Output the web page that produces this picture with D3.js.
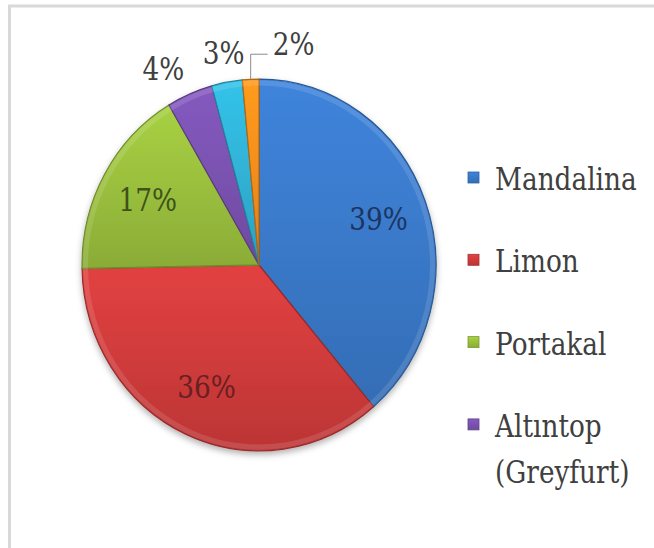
<!DOCTYPE html>
<html>
<head>
<meta charset="utf-8">
<script src="https://cdn.jsdelivr.net/npm/d3@7/dist/d3.min.js"></script>
<style>
  html, body { margin: 0; padding: 0; background: #ffffff; }
  svg { display: block; }
</style>
</head>
<body>
<svg id="chart" width="654" height="548"></svg>
<script>
// ---- data ----
const categories = ["Mandalina", "Limon", "Portakal", "Altıntop", "Turunç", "Diğer"];
const legendLines = [["Mandalina"], ["Limon"], ["Portakal"], ["Altıntop", "(Greyfurt)"]];
const values = [38.8, 35.9, 16.8, 4.2, 2.8, 1.5];
const baseColors = ["#3A79C9", "#D03B3B", "#9ABF3D", "#7A52B0", "#30B2D6", "#F38E1C"];
const labelColors = ["#1B3561", "#6A2020", "#3E5219", "#404040", "#404040", "#404040"];

// ---- layout ----
const W = 654, H = 548;
const cx = 259, cy = 265, R = 177, yStretch = 1.05;
const FONT = "DejaVu Serif", XS = 0.85;
const svg = d3.select("#chart");
const defs = svg.append("defs");

// text helper: serif text, horizontally condensed
function addText(parent, x, y, str, size, color, anchor) {
  const g = parent.append("g").attr("transform", `translate(${x},${y}) scale(${XS},1)`);
  g.append("text")
    .attr("x", 0).attr("y", 0)
    .attr("text-anchor", anchor)
    .attr("font-family", FONT)
    .attr("font-size", size)
    .attr("fill", color)
    .text(str);
  return g;
}
function box(g) {
  const bb = g.select("text").node().getBBox();
  const t = g.attr("transform").match(/translate\(([-\d.]+),([-\d.]+)\)/);
  const tx = +t[1];
  return { left: tx + bb.x * XS, right: tx + (bb.x + bb.width) * XS };
}

// outer chart frame
svg.append("rect").attr("x", 9.5).attr("y", 6).attr("width", W + 20).attr("height", H + 20)
  .attr("fill", "#ffffff").attr("stroke", "#d9d9d9").attr("stroke-width", 3);

// gradients
baseColors.forEach((c, i) => {
  const g = defs.append("linearGradient").attr("id", "grad" + i)
    .attr("x1", 0).attr("y1", 0).attr("x2", 0).attr("y2", 1);
  g.append("stop").attr("offset", "0%").attr("stop-color", d3.color(c).brighter(0.25));
  g.append("stop").attr("offset", "50%").attr("stop-color", c);
  g.append("stop").attr("offset", "100%").attr("stop-color", d3.color(c).darker(0.3));
});
const shadow = defs.append("filter").attr("id", "shadow")
  .attr("x", "-20%").attr("y", "-20%").attr("width", "140%").attr("height", "140%");
shadow.append("feDropShadow").attr("dx", 0).attr("dy", 3).attr("stdDeviation", 3)
  .attr("flood-color", "#000").attr("flood-opacity", 0.3);

const pie = d3.pie().sort(null).value(d => d)(values);
const arc = d3.arc().innerRadius(0).outerRadius(R);

const pieG = svg.append("g")
  .attr("transform", `translate(${cx},${cy}) scale(1,${yStretch})`)
  .attr("filter", "url(#shadow)");

pieG.selectAll("path.slice").data(pie).join("path")
  .attr("class", "slice")
  .attr("d", arc)
  .attr("fill", (d, i) => `url(#grad${i})`)
  .attr("stroke", (d, i) => d3.color(baseColors[i]).darker(0.9))
  .attr("stroke-width", 1.2)
  .attr("stroke-linejoin", "round");

// inner bevel highlight
const bevelArc = d3.arc().innerRadius(R - 6).outerRadius(R - 1);
pieG.selectAll("path.bevel").data(pie).join("path")
  .attr("class", "bevel")
  .attr("d", bevelArc)
  .attr("fill", "#ffffff")
  .attr("opacity", 0.12);

// ---- labels ----
const fmt = v => Math.round(v) + "%";
const labSize = 31;
const labelsG = svg.append("g");
const inArc = d3.arc().innerRadius(R * 0.72).outerRadius(R * 0.72);
let prevRight = -Infinity;
pie.forEach((d, i) => {
  const mid = (d.startAngle + d.endAngle) / 2;
  const share = d.value / d3.sum(values);
  if (share > 0.1) {
    const [x, y] = inArc.centroid(d);
    addText(labelsG, cx + x, cy + y * yStretch + labSize * 0.36, fmt(d.value), labSize, labelColors[i], "middle");
  } else {
    const s = Math.sin(mid), c = Math.cos(mid);
    const r0 = R * (Math.abs(s) > 0.3 ? 1.08 : 1.1);
    const x = cx + r0 * s;
    const y = cy - r0 * c * yStretch;
    const anchor = s < -0.3 ? "end" : (s > 0.3 ? "start" : "middle");
    let t = addText(labelsG, x, y, fmt(d.value), labSize, labelColors[i], anchor);
    let bb = box(t);
    if (bb.left < prevRight + 4) {
      // move the label to the right of its slice and draw a leader line
      t.remove();
      const px = cx + R * s;
      const py = cy - R * c * yStretch;
      const ly = cy - R * 1.13 * c * yStretch;
      t = addText(labelsG, px + 22, ly, fmt(d.value), labSize, labelColors[i], "start");
      bb = box(t);
      labelsG.append("polyline")
        .attr("points", `${px},${py} ${px},${ly - 1} ${bb.left - 5},${ly - 1}`)
        .attr("fill", "none").attr("stroke", "#8c8c8c").attr("stroke-width", 1);
    }
    prevRight = bb.right;
  }
});

// ---- legend ----
const legG = svg.append("g");
const legX = 468, legTextX = 495, legY0 = 190, legStep = 82.3, lineH = 46, legSize = 31;
legendLines.forEach((lines, i) => {
  const by = legY0 + i * legStep;
  legG.append("rect")
    .attr("x", legX).attr("y", by - 18).attr("width", 11).attr("height", 11)
    .attr("fill", `url(#grad${i})`)
    .attr("stroke", d3.color(baseColors[i]).darker(0.6)).attr("stroke-width", 0.8);
  lines.forEach((ln, j) => {
    addText(legG, legTextX, by + j * lineH, ln, legSize, "#404040", "start");
  });
});
</script>
</body>
</html>
